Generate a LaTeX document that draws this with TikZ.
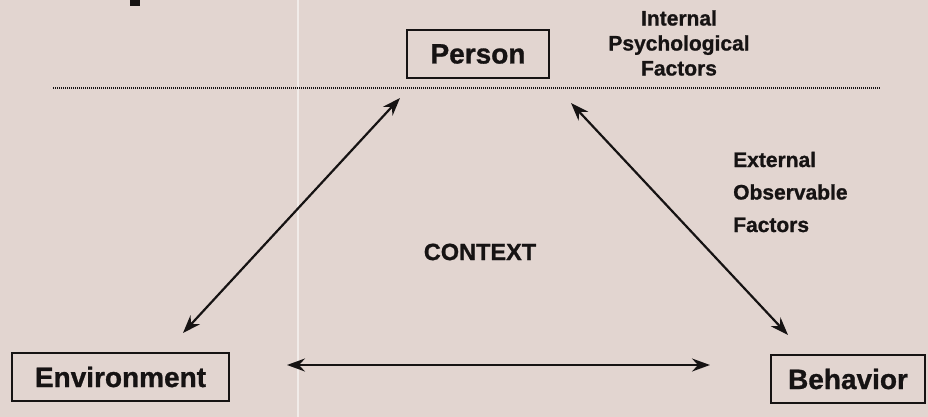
\documentclass[tikz,border=0pt]{standalone}
\usepackage{fontspec}
\setmainfont{Liberation Sans}[BoldFeatures={FakeBold=1}]
\usetikzlibrary{arrows.meta}
\definecolor{bg}{RGB}{226,213,208}
\definecolor{ink}{RGB}{22,19,19}
\begin{document}
\begin{tikzpicture}[x=1pt,y=-1pt,
  boxnode/.style={draw=ink,line width=1.8pt,text=ink,font=\bfseries\fontsize{28}{30}\selectfont,minimum height=48pt,inner sep=0pt},
  lbl/.style={text=ink,font=\bfseries\fontsize{21}{27}\selectfont,inner sep=0pt},
  tip/.tip={Stealth[length=18pt,width=13pt,inset=6pt]},
  arr/.style={draw=ink,line width=2.2pt,tip-tip}]
\fill[bg] (0,0) rectangle (928,417);
\useasboundingbox (0,0) rectangle (928,417);
% scan artefacts
\draw[white,opacity=0.55,line width=2pt] (298,0) -- (298,417);
\fill[ink] (130,0) rectangle (140,6);
% separator
\draw[ink,line width=1.3pt,dash pattern=on 1pt off 1pt] (53,88) -- (880,88);
% boxes
\node[boxnode,minimum width=142pt] (person) at (478,54) {Person};
\node[boxnode,minimum width=217pt] (env) at (120.5,377) {Environment};
\node[boxnode,minimum width=154pt] (beh) at (848,379) {Behavior};
% labels
\node[lbl,align=center,font=\bfseries\fontsize{21}{25}\selectfont] (internal) at (679,43) {Internal\\Psychological\\Factors};
\node[lbl,align=left,anchor=west,font=\bfseries\fontsize{21}{32.5}\selectfont] (external) at (733,192) {External\\Observable\\Factors};
\node[lbl,font=\bfseries\fontsize{23.5}{26}\selectfont] (context) at (480,252) {CONTEXT};
% connector ends
\coordinate (pl) at (400,98);
\coordinate (el) at (183,333);
\coordinate (pr) at (571,103);
\coordinate (br) at (788,335);
\coordinate (eb) at (287,365);
\coordinate (be) at (710,365);
\draw[arr] (el) -- (pl);
\draw[arr] (pr) -- (br);
\draw[arr] (eb) -- (be);
\end{tikzpicture}
\end{document}
